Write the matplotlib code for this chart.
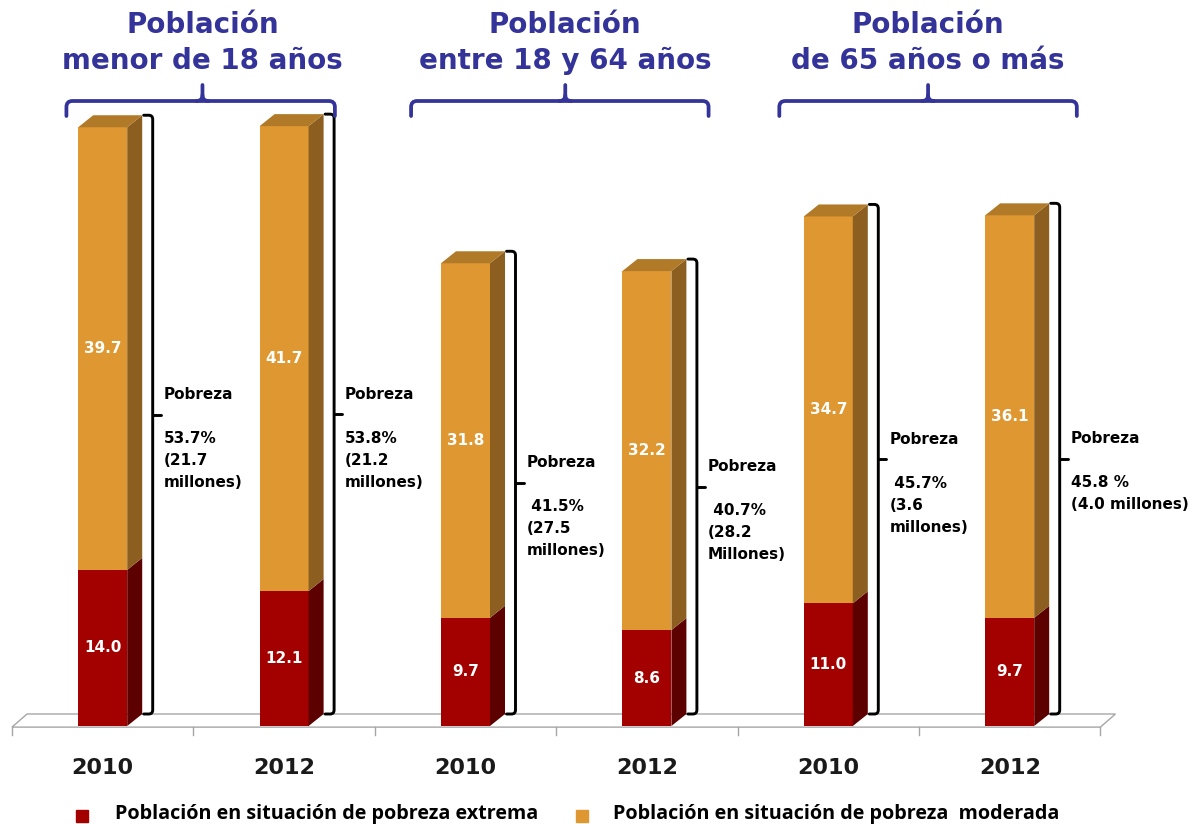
import matplotlib
matplotlib.use('Agg')
import matplotlib.pyplot as plt
from matplotlib.patches import Polygon, PathPatch
from matplotlib.path import Path
from matplotlib.transforms import Affine2D
import numpy as np

# ---------------- data ----------------
group_titles = ['Población\nmenor de 18 años',
                'Población\nentre 18 y 64 años',
                'Población\nde 65 años o más']
years = ['2010', '2012', '2010', '2012', '2010', '2012']
extrema = [14.0, 12.1, 9.7, 8.6, 11.0, 9.7]
moderada = [39.7, 41.7, 31.8, 32.2, 34.7, 36.1]
pobreza_labels = [
    ['Pobreza', '', '53.7%', '(21.7', 'millones)'],
    ['Pobreza', '', '53.8%', '(21.2', 'millones)'],
    ['Pobreza', '', ' 41.5%', '(27.5', 'millones)'],
    ['Pobreza', '', ' 40.7%', '(28.2', 'Millones)'],
    ['Pobreza', '', ' 45.7%', '(3.6', 'millones)'],
    ['Pobreza', '', '45.8 %', '(4.0 millones)'],
]
legend_labels = ['Población en situación de pobreza extrema',
                 'Población en situación de pobreza  moderada']

# ---------------- style ----------------
W, H = 1201, 824
PX_X = 181.4      # pixels per category
PX_Y = 11.15      # pixels per unit
X0_PX = 12        # pixel of category boundary -0.5
BASE_PX = 726     # pixel of value 0

red_front, red_side = '#A30000', '#5C0000'
org_front, org_side, org_top = '#DF9731', '#8C5F21', '#B07A28'
blue = '#333399'

fig = plt.figure(figsize=(W / 100, H / 100), dpi=100)
ax = fig.add_axes([0, 0, 1, 1])
ax.axis('off')
ax.set_xlim(-0.5 - X0_PX / PX_X, -0.5 + (W - X0_PX) / PX_X)
ax.set_ylim(-(H - BASE_PX) / PX_Y, BASE_PX / PX_Y)
pix = Affine2D().scale(1 / W, -1 / H).translate(0, 1) + fig.transFigure

x = np.arange(len(years))
bw = 49 / PX_X
dx = 15 / PX_X
dy = 12 / PX_Y
ext = np.array(extrema)
mod = np.array(moderada)
tot = ext + mod

# floor
fy0 = -0.1
floor = Polygon([(-0.5, fy0), (len(x) - 0.5, fy0), (len(x) - 0.5 + dx, fy0 + dy + 0.1),
                 (-0.5 + dx, fy0 + dy + 0.1)], closed=True, facecolor='white',
                edgecolor='#A6A6A6', lw=1.0, zorder=1)
ax.add_patch(floor)
for b in np.arange(-0.5, len(x), 1.0):
    ax.plot([b, b], [fy0, fy0 - 0.75], color='#A6A6A6', lw=1.0, zorder=1)

# bars (front faces)
ax.bar(x, ext, width=bw, color=red_front, zorder=3, linewidth=0)
ax.bar(x, mod, width=bw, bottom=ext, color=org_front, zorder=3, linewidth=0)

# 3D side/top faces
for xi, e, t in zip(x, ext, tot):
    r = xi + bw / 2
    l = xi - bw / 2
    for (y0, y1, c) in [(0, e, red_side), (e, t, org_side)]:
        ax.add_patch(Polygon([(r, y0), (r + dx, y0 + dy), (r + dx, y1 + dy), (r, y1)],
                             closed=True, facecolor=c, edgecolor='none', zorder=3))
    ax.add_patch(Polygon([(l, t), (l + dx, t + dy), (r + dx, t + dy), (r, t)],
                         closed=True, facecolor=org_top, edgecolor='none', zorder=3))

# value labels inside
for xi, e, m in zip(x, ext, mod):
    ax.text(xi, e / 2, f'{e:.1f}', ha='center', va='center', color='white',
            fontsize=11, fontweight='bold', zorder=4)
    ax.text(xi, e + m / 2, f'{m:.1f}', ha='center', va='center', color='white',
            fontsize=11, fontweight='bold', zorder=4)

# black brackets + pobreza labels
boff = 50 / PX_X
hook = 9 / PX_X
rx, ry = 4 / PX_X, 4 / PX_Y
tick = 8 / PX_X
for xi, t, lines in zip(x, tot, pobreza_labels):
    bx = xi + boff
    top = t + dy
    bot = dy
    verts = [(bx - hook, top), (bx - rx, top), (bx, top), (bx, top - ry),
             (bx, bot + ry), (bx, bot), (bx - rx, bot), (bx - hook, bot)]
    codes = [Path.MOVETO, Path.LINETO, Path.CURVE3, Path.CURVE3,
             Path.LINETO, Path.CURVE3, Path.CURVE3, Path.LINETO]
    ax.add_patch(PathPatch(Path(verts, codes), facecolor='none', edgecolor='black',
                           lw=2.1, zorder=4, capstyle='round'))
    mid = (top + bot) / 2
    ax.plot([bx, bx + tick], [mid, mid], color='black', lw=2.1, zorder=4,
            solid_capstyle='round')
    y0 = mid + 20 / PX_Y
    for k, s in enumerate(lines):
        if s:
            ax.text(bx + 11 / PX_X, y0 - k * 22 / PX_Y, s, ha='left', va='center',
                    fontsize=11, fontweight='bold', color='black', zorder=5)

# year labels
for xi, yr in zip(x, years):
    ax.text(xi, -(768 - BASE_PX) / PX_Y, yr, ha='center', va='center',
            fontsize=16, fontweight='bold', color='#1a1a1a')

# group titles and blue braces
left_off = [-0.70, -0.80, -0.77]
right_off = [0.78, 0.84, 0.87]
yh = (BASE_PX - 101) / PX_Y
yend = (BASE_PX - 116) / PX_Y
ytip = (BASE_PX - 85) / PX_Y
brx, bry = 6 / PX_X, 6 / PX_Y
for g, title in enumerate(group_titles):
    c = (x[2 * g] + x[2 * g + 1]) / 2
    xt = c + 0.05
    ax.text(xt, (BASE_PX - 43) / PX_Y, title, ha='center', va='center', ma='center',
            fontsize=20, fontweight='bold', color=blue, linespacing=1.33)
    xl, xr = c + left_off[g], c + right_off[g]
    verts = [(xl, yend), (xl, yh - bry), (xl, yh), (xl + brx, yh),
             (xr - brx, yh), (xr, yh), (xr, yh - bry), (xr, yend)]
    codes = [Path.MOVETO, Path.LINETO, Path.CURVE3, Path.CURVE3,
             Path.LINETO, Path.CURVE3, Path.CURVE3, Path.LINETO]
    ax.add_patch(PathPatch(Path(verts, codes), facecolor='none', edgecolor=blue,
                           lw=2.7, zorder=4, capstyle='round'))
    verts = [(xt - brx, yh), (xt, yh), (xt, yh + bry), (xt, ytip)]
    codes = [Path.MOVETO, Path.CURVE3, Path.CURVE3, Path.LINETO]
    ax.add_patch(PathPatch(Path(verts, codes), facecolor='none', edgecolor=blue,
                           lw=2.7, zorder=4, capstyle='round'))
    verts = [(xt + brx, yh), (xt, yh), (xt, yh + bry)]
    codes = [Path.MOVETO, Path.CURVE3, Path.CURVE3]
    ax.add_patch(PathPatch(Path(verts, codes), facecolor='none', edgecolor=blue,
                           lw=2.7, zorder=4, capstyle='round'))

# legend
for (sqx, tx), col, lab in zip([(82, 115), (582, 613)], [red_front, org_front], legend_labels):
    ax.plot([sqx], [816], marker='s', ms=8, color=col, transform=pix, clip_on=False)
    ax.text(tx, 814, lab, transform=pix, ha='left', va='center', fontsize=14.2,
            fontweight='bold', color='black', family=['Open Sans', 'DejaVu Sans'])

fig.savefig('out.png', dpi=100)
